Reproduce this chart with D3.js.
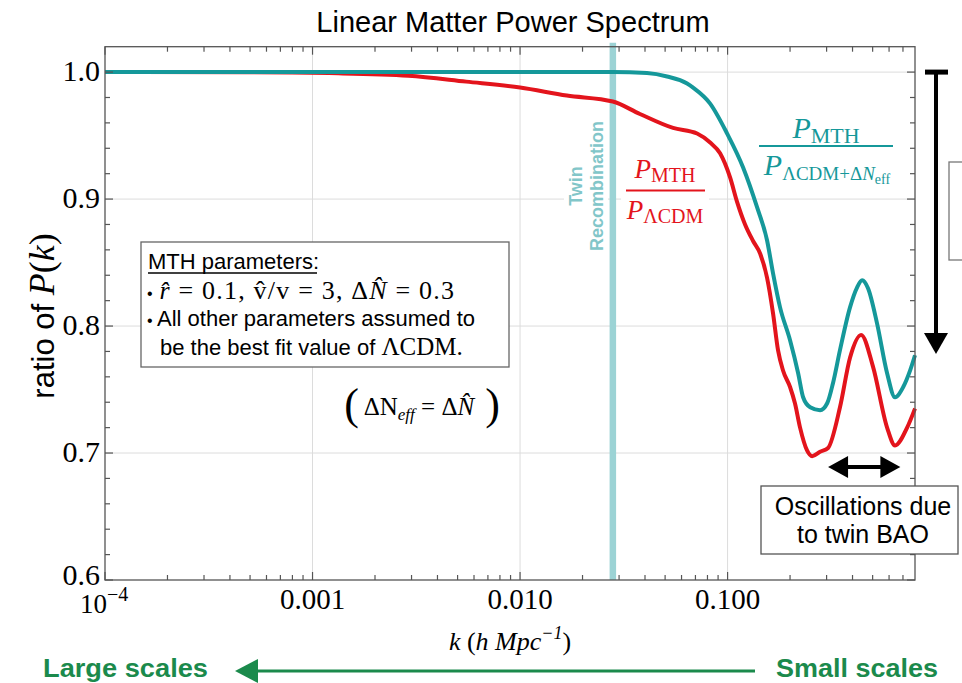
<!DOCTYPE html>
<html>
<head>
<meta charset="utf-8">
<script src="https://cdn.jsdelivr.net/npm/d3@7"></script>
<style>
  body { margin: 0; background: #fff; }
  svg { display: block; }
</style>
</head>
<body>
<div id="chart"></div>
<script>

///////////////////////////////////////////////////////////////////////////
////////////////////////////////// Data ///////////////////////////////////
///////////////////////////////////////////////////////////////////////////

// P_MTH / P_LCDM+dNeff  (teal)
var kTeal     = [0.0001, 0.001, 0.01, 0.028, 0.0409, 0.0511, 0.0638, 0.0682, 0.0824, 0.0995, 0.1188, 0.1388,
                 0.155, 0.1656, 0.179, 0.200, 0.2188, 0.2312, 0.250, 0.279, 0.302, 0.322, 0.348, 0.389,
                 0.421, 0.445, 0.475, 0.525, 0.587, 0.641, 0.701, 0.758, 0.80]
var ratioTeal = [1.0, 1.0, 1.0, 1.0, 0.9992, 0.9965, 0.991, 0.9878, 0.9752, 0.9516, 0.9249, 0.8934,
                 0.8674, 0.8415, 0.8147, 0.7888, 0.7628, 0.7439, 0.736, 0.7337, 0.7392, 0.755, 0.781, 0.8147,
                 0.8305, 0.836, 0.8297, 0.8021, 0.7628, 0.7439, 0.7518, 0.7651, 0.777]

// P_MTH / P_LCDM  (red)
var kRed      = [0.0001, 0.0005, 0.0012, 0.0029, 0.0055, 0.010, 0.0168, 0.028, 0.0378, 0.0546, 0.0713, 0.0824,
                 0.092, 0.1028, 0.111, 0.1214, 0.1327, 0.1436, 0.155, 0.1656, 0.175, 0.185, 0.200, 0.2113,
                 0.2235, 0.2415, 0.2555, 0.279, 0.305, 0.348, 0.389, 0.440, 0.502, 0.587, 0.641, 0.733, 0.80]
var ratioRed  = [1.0, 0.9999, 0.9992, 0.9972, 0.9925, 0.9878, 0.9815, 0.9768, 0.967, 0.956, 0.9516, 0.9445,
                 0.936, 0.917, 0.898, 0.880, 0.867, 0.857, 0.838, 0.810, 0.781, 0.765, 0.752, 0.739,
                 0.720, 0.702, 0.6975, 0.701, 0.704, 0.736, 0.775, 0.793, 0.768, 0.720, 0.706, 0.720, 0.735]

var xTickValues = [0.0001, 0.001, 0.01, 0.1]
var xTickLabels = ["10", "0.001", "0.010", "0.100"]
var yTickValues = [0.6, 0.7, 0.8, 0.9, 1.0]
var yTickLabels = ["0.6", "0.7", "0.8", "0.9", "1.0"]

var twinRecombinationK = 0.028
var baoArrowK = [0.305, 0.68]
var baoArrowRatio = 0.689
var shiftArrowRatio = [1.0, 0.778]

///////////////////////////////////////////////////////////////////////////
///////////////////////////////// Globals /////////////////////////////////
///////////////////////////////////////////////////////////////////////////

var canvasDim = { width: 962, height: 683 }
var plot = { left: 105, right: 915, top: 46.7, bottom: 580 }
var sans = "'Liberation Sans', Arial, sans-serif"
var serif = "'Liberation Serif', 'Times New Roman', serif"
var red = "#e3141c"
var teal = "#15989a"
var band = "#9cd3d5"
var green = "#1b8a4c"

var svg = d3.select("#chart").append("svg")
  .attr("width", canvasDim.width)
  .attr("height", canvasDim.height)

var x = d3.scaleLog().domain([0.0001, 0.8]).range([plot.left, plot.right])
var y = d3.scaleLinear().domain([0.6, 1.02]).range([plot.bottom, plot.top])

///////////////////////////////////////////////////////////////////////////
///////////////////////////////// Grid ////////////////////////////////////
///////////////////////////////////////////////////////////////////////////

var grid = svg.append("g").attr("stroke", "#dcdcdc").attr("stroke-width", 1)
grid.selectAll(".vg").data(xTickValues.slice(1)).enter().append("line")
  .attr("x1", d => x(d)).attr("x2", d => x(d))
  .attr("y1", plot.top).attr("y2", plot.bottom)
grid.selectAll(".hg").data(yTickValues.slice(1)).enter().append("line")
  .attr("x1", plot.left).attr("x2", plot.right)
  .attr("y1", d => y(d)).attr("y2", d => y(d))

// white patches behind the labels break the grid like the original
svg.append("rect").attr("x", 564).attr("y", 112).attr("width", 44).attr("height", 146).attr("fill", "#fff")
svg.append("rect").attr("x", 621).attr("y", 158).attr("width", 88).attr("height", 72).attr("fill", "#fff")

// twin recombination band
svg.append("line")
  .attr("x1", x(twinRecombinationK)).attr("x2", x(twinRecombinationK))
  .attr("y1", plot.top - 4).attr("y2", plot.bottom)
  .attr("stroke", band).attr("stroke-width", 6.5)

///////////////////////////////////////////////////////////////////////////
///////////////////////////////// Curves //////////////////////////////////
///////////////////////////////////////////////////////////////////////////

var line = d3.line()
  .x(d => x(d[0]))
  .y(d => y(d[1]))
  .curve(d3.curveMonotoneX)

svg.append("path")
  .datum(d3.zip(kRed, ratioRed))
  .attr("d", line)
  .attr("fill", "none").attr("stroke", red).attr("stroke-width", 4)
  .attr("stroke-linejoin", "round")

svg.append("path")
  .datum(d3.zip(kTeal, ratioTeal))
  .attr("d", line)
  .attr("fill", "none").attr("stroke", teal).attr("stroke-width", 4)
  .attr("stroke-linejoin", "round")

///////////////////////////////////////////////////////////////////////////
///////////////////////////////// Frame & ticks ///////////////////////////
///////////////////////////////////////////////////////////////////////////

svg.append("rect")
  .attr("x", plot.left).attr("y", plot.top)
  .attr("width", plot.right - plot.left).attr("height", plot.bottom - plot.top)
  .attr("fill", "none").attr("stroke", "#555").attr("stroke-width", 1.3)

var minorX = []
for (var e = -4; e <= -1; e++) {
  for (var m = 2; m <= 9; m++) {
    var v = m * Math.pow(10, e)
    if (v < 0.8) minorX.push(v)
  }
}
var ticks = svg.append("g").attr("stroke", "#555").attr("stroke-width", 1.2)
minorX.forEach(function (v) {
  ticks.append("line").attr("x1", x(v)).attr("x2", x(v)).attr("y1", plot.bottom).attr("y2", plot.bottom - 5)
  ticks.append("line").attr("x1", x(v)).attr("x2", x(v)).attr("y1", plot.top).attr("y2", plot.top + 5)
})
xTickValues.forEach(function (v) {
  ticks.append("line").attr("x1", x(v)).attr("x2", x(v)).attr("y1", plot.bottom).attr("y2", plot.bottom - 8)
  ticks.append("line").attr("x1", x(v)).attr("x2", x(v)).attr("y1", plot.top).attr("y2", plot.top + 8)
})
d3.range(0, 21).forEach(function (i) {
  var v = 0.6 + i * 0.02
  var major = i % 5 === 0
  ticks.append("line").attr("x1", plot.left).attr("x2", plot.left + (major ? 8 : 5)).attr("y1", y(v)).attr("y2", y(v))
  ticks.append("line").attr("x1", plot.right).attr("x2", plot.right - (major ? 8 : 5)).attr("y1", y(v)).attr("y2", y(v))
})

// tick labels
svg.selectAll(".ylab").data(yTickValues).enter().append("text")
  .attr("x", 100).attr("y", (d, i) => y(d) + (i === 0 ? 5 : 9))
  .attr("text-anchor", "end")
  .style("font-family", serif).style("font-size", "30px")
  .text((d, i) => yTickLabels[i])

var xl = svg.selectAll(".xlab").data(xTickValues).enter().append("text")
  .attr("x", (d, i) => i === 0 ? x(d) - 25 : x(d))
  .attr("y", (d, i) => i === 0 ? 613 : 609)
  .attr("text-anchor", (d, i) => i === 0 ? "start" : "middle")
  .style("font-family", serif).style("font-size", (d, i) => i === 0 ? "27px" : "29px")
xl.append("tspan").text((d, i) => xTickLabels[i])
xl.filter((d, i) => i === 0).append("tspan")
  .attr("dy", -12).style("font-size", "20px").text("\u22124")

///////////////////////////////////////////////////////////////////////////
///////////////////////////////// Axis titles /////////////////////////////
///////////////////////////////////////////////////////////////////////////

svg.append("text")
  .attr("x", 513).attr("y", 32)
  .attr("text-anchor", "middle")
  .style("font-family", sans).style("font-size", "29px")
  .text("Linear Matter Power Spectrum")

var ylab = svg.append("text")
  .attr("transform", "translate(54,316) rotate(-90)")
  .attr("text-anchor", "middle")
  .style("font-family", sans).style("font-size", "31px")
ylab.append("tspan").text("ratio of ")
ylab.append("tspan").style("font-family", serif).style("font-style", "italic").style("font-size", "36px").text("P")
ylab.append("tspan").style("font-family", serif).style("font-size", "36px").text("(")
ylab.append("tspan").style("font-family", serif).style("font-style", "italic").style("font-size", "36px").text("k")
ylab.append("tspan").style("font-family", serif).style("font-size", "36px").text(")")

var xlab = svg.append("text")
  .attr("x", 510).attr("y", 650)
  .attr("text-anchor", "middle")
  .style("font-family", serif).style("font-size", "26px").style("font-style", "italic")
xlab.append("tspan").text("k ")
xlab.append("tspan").style("font-style", "normal").text("(")
xlab.append("tspan").text("h Mpc")
xlab.append("tspan").attr("dy", -11).style("font-size", "18px").text("\u22121")
xlab.append("tspan").attr("dy", 11).style("font-style", "normal").text(")")

///////////////////////////////////////////////////////////////////////////
///////////////////////////////// Annotations /////////////////////////////
///////////////////////////////////////////////////////////////////////////

// twin recombination label
svg.append("text")
  .attr("transform", "translate(582,186) rotate(-90)")
  .attr("text-anchor", "middle")
  .style("font-family", sans).style("font-weight", "bold").style("font-size", "18px")
  .attr("fill", "#82c6c9").text("Twin")
svg.append("text")
  .attr("transform", "translate(603,186) rotate(-90)")
  .attr("text-anchor", "middle")
  .style("font-family", sans).style("font-weight", "bold").style("font-size", "18px")
  .attr("fill", "#82c6c9").text("Recombination")

// red fraction
var rn = svg.append("text").attr("x", 665).attr("y", 178).attr("text-anchor", "middle")
  .attr("fill", red).style("font-family", serif)
rn.append("tspan").style("font-style", "italic").style("font-size", "27px").text("P")
rn.append("tspan").attr("dy", 4).style("font-size", "20px").text("MTH")
svg.append("line").attr("x1", 626).attr("x2", 705).attr("y1", 190.5).attr("y2", 190.5)
  .attr("stroke", red).attr("stroke-width", 2)
var rd = svg.append("text").attr("x", 665).attr("y", 219).attr("text-anchor", "middle")
  .attr("fill", red).style("font-family", serif)
rd.append("tspan").style("font-style", "italic").style("font-size", "27px").text("P")
rd.append("tspan").attr("dy", 4).style("font-size", "20px").text("\u039BCDM")

// teal fraction
var tn = svg.append("text").attr("x", 826).attr("y", 138).attr("text-anchor", "middle")
  .attr("fill", teal).style("font-family", serif)
tn.append("tspan").style("font-style", "italic").style("font-size", "30px").text("P")
tn.append("tspan").attr("dy", 5).style("font-size", "22px").text("MTH")
svg.append("line").attr("x1", 759).attr("x2", 893).attr("y1", 146).attr("y2", 146)
  .attr("stroke", teal).attr("stroke-width", 2)
var td = svg.append("text").attr("x", 827).attr("y", 175).attr("text-anchor", "middle")
  .attr("fill", teal).style("font-family", serif)
td.append("tspan").style("font-style", "italic").style("font-size", "30px").text("P")
td.append("tspan").attr("dy", 5).style("font-size", "19px").text("\u039BCDM+\u0394")
td.append("tspan").style("font-style", "italic").style("font-size", "19px").text("N")
td.append("tspan").attr("dy", 4).style("font-size", "14px").text("eff")

// parameters box
svg.append("rect").attr("x", 141).attr("y", 242).attr("width", 368).attr("height", 125)
  .attr("fill", "#fff").attr("stroke", "#666").attr("stroke-width", 1.3)
svg.append("text").attr("x", 148).attr("y", 269)
  .style("font-family", sans).style("font-size", "22px").text("MTH parameters:")
svg.append("line").attr("x1", 148).attr("x2", 317).attr("y1", 273).attr("y2", 273)
  .attr("stroke", "#000").attr("stroke-width", 1.3)

var p1 = svg.append("text").attr("x", 147).attr("y", 299)
  .attr("textLength", 307).attr("lengthAdjust", "spacing")
  .style("font-family", serif).style("font-size", "26px")
p1.append("tspan").style("font-family", sans).style("font-size", "16px").text("\u2022 ")
p1.append("tspan").style("font-style", "italic").text("r\u0302")
p1.append("tspan").text(" = 0.1, v\u0302/v = 3, \u0394")
p1.append("tspan").style("font-style", "italic").text("N\u0302")
p1.append("tspan").text(" = 0.3")

var p2 = svg.append("text").attr("x", 147).attr("y", 326)
  .style("font-family", sans).style("font-size", "22px")
p2.append("tspan").style("font-size", "16px").text("\u2022 ")
p2.append("tspan").text("All other parameters assumed to")

var p3 = svg.append("text").attr("x", 160).attr("y", 355)
  .style("font-family", sans).style("font-size", "22px")
p3.append("tspan").text("be the best fit value of ")
p3.append("tspan").style("font-family", serif).style("font-size", "25px").text("\u039BCDM.")

// (dNeff = dN^)
var nn = svg.append("text").attr("x", 422).attr("y", 415).attr("text-anchor", "middle")
  .style("font-family", serif).style("font-size", "25px")
nn.append("tspan").style("font-size", "44px").style("font-weight", "lighter").attr("dy", 4).text("(")
nn.append("tspan").attr("dy", -4).text(" \u0394N")
nn.append("tspan").attr("dy", 5).style("font-style", "italic").style("font-size", "17px").text("eff")
nn.append("tspan").attr("dy", -5).text(" = \u0394")
nn.append("tspan").style("font-style", "italic").text("N\u0302")
nn.append("tspan").style("font-size", "44px").attr("dy", 4).text(" )")

// oscillation box
svg.append("rect").attr("x", 761).attr("y", 486).attr("width", 197).attr("height", 68)
  .attr("fill", "#fff").attr("stroke", "#555").attr("stroke-width", 1.3)
svg.append("text").attr("x", 863).attr("y", 515).attr("text-anchor", "middle")
  .style("font-family", sans).style("font-size", "25px").text("Oscillations due")
svg.append("text").attr("x", 863).attr("y", 543).attr("text-anchor", "middle")
  .style("font-family", sans).style("font-size", "25px").text("to twin BAO")

// BAO double arrow
var by = y(baoArrowRatio)
svg.append("line").attr("x1", x(baoArrowK[0]) + 10).attr("x2", x(baoArrowK[1]) - 10)
  .attr("y1", by).attr("y2", by).attr("stroke", "#000").attr("stroke-width", 4)
svg.append("path").attr("fill", "#000")
  .attr("d", "M" + x(baoArrowK[0]) + "," + by + "l20,-11l0,22z")
svg.append("path").attr("fill", "#000")
  .attr("d", "M" + x(baoArrowK[1]) + "," + by + "l-20,-11l0,22z")

// vertical shift arrow
var ax = 936
svg.append("line").attr("x1", 925).attr("x2", 948).attr("y1", y(shiftArrowRatio[0])).attr("y2", y(shiftArrowRatio[0]))
  .attr("stroke", "#000").attr("stroke-width", 5)
svg.append("line").attr("x1", ax).attr("x2", ax).attr("y1", y(shiftArrowRatio[0])).attr("y2", y(shiftArrowRatio[1]) - 15)
  .attr("stroke", "#000").attr("stroke-width", 4)
svg.append("path").attr("fill", "#000")
  .attr("d", "M" + ax + "," + y(shiftArrowRatio[1]) + "l-12,-21l24,0z")

// box cut off at the right edge
svg.append("rect").attr("x", 949).attr("y", 162).attr("width", 40).attr("height", 98)
  .attr("fill", "none").attr("stroke", "#777").attr("stroke-width", 1.3)

// scale arrow
svg.append("text").attr("x", 43).attr("y", 677)
  .attr("textLength", 165).attr("lengthAdjust", "spacingAndGlyphs")
  .style("font-family", sans).style("font-weight", "bold").style("font-size", "25px")
  .attr("fill", green).text("Large scales")
svg.append("text").attr("x", 776).attr("y", 677)
  .attr("textLength", 162).attr("lengthAdjust", "spacingAndGlyphs")
  .style("font-family", sans).style("font-weight", "bold").style("font-size", "25px")
  .attr("fill", green).text("Small scales")
svg.append("line").attr("x1", 252).attr("x2", 755).attr("y1", 671).attr("y2", 671)
  .attr("stroke", green).attr("stroke-width", 3)
svg.append("path").attr("fill", green).attr("d", "M235,671l23,-12l0,24z")

</script>
</body>
</html>
